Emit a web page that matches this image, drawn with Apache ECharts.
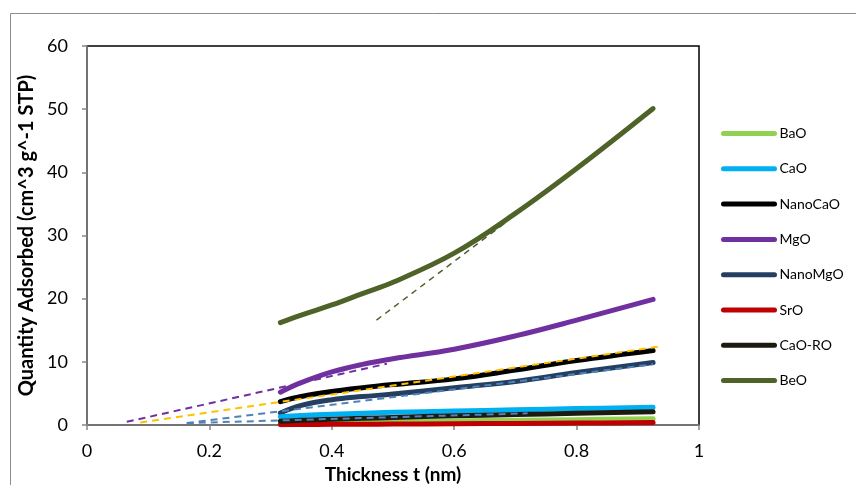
<!DOCTYPE html>
<html><head><meta charset="utf-8">
<script src="https://cdn.jsdelivr.net/npm/echarts@6/dist/echarts.min.js"></script>
<style>html,body{margin:0;padding:0;background:#fff}#c{width:856px;height:485px}</style>
</head><body><div id="c"></div>
<script>
const xTicks = [0, 0.2, 0.4, 0.6, 0.8, 1];
const yTicks = [0, 10, 20, 30, 40, 50, 60];
const thickness = [0.316, 0.35, 0.4, 0.45, 0.5, 0.6, 0.7, 0.8, 0.925];
const BaO      = [0.3, 0.35, 0.4, 0.45, 0.5, 0.65, 0.75, 0.85, 1.0];
const CaO      = [1.3, 1.5, 1.7, 1.85, 2.0, 2.2, 2.4, 2.6, 2.8];
const NanoCaO  = [3.7, 4.5, 5.3, 5.9, 6.4, 7.3, 8.7, 10.2, 11.8];
const MgO      = [5.2, 6.7, 8.4, 9.6, 10.5, 12.0, 14.1, 16.6, 19.9];
const NanoMgO  = [1.9, 3.1, 4.0, 4.5, 4.9, 5.9, 6.9, 8.3, 9.9];
const SrO      = [0.05, 0.07, 0.1, 0.12, 0.15, 0.2, 0.25, 0.3, 0.4];
const CaORO    = [0.6, 0.75, 0.9, 1.05, 1.2, 1.45, 1.65, 1.85, 2.1];
const BeO      = [16.2, 17.4, 19.0, 20.8, 22.6, 27.2, 33.5, 40.6, 50.1];
// linear fit (dashed) lines: [x0, x1], [y0, y1]
const mgoFitX = [0.065, 0.49],  mgoFitY = [0.5, 9.7];
const nanoCaOFitX = [0.087, 0.933], nanoCaOFitY = [0.4, 12.4];
const nanoMgOFitX = [0.163, 0.925], nanoMgOFitY = [0.3, 9.6];
const caoroFitX = [0.163, 0.72], caoroFitY = [0.3, 1.85];
const beoFitX = [0.473, 0.686], beoFitY = [16.6, 32.2];

const legendOrder = ['BaO','CaO','NanoCaO','MgO','NanoMgO','SrO','CaO-RO','BeO'];
const FONT = 'Lato, "Open Sans", sans-serif';

function pairs(xs, ys){ return xs.map((x,i)=>[x, ys[i]]); }
function solid(name, ys, color, z){
  return {name, type:'line', data: pairs(thickness, ys), smooth:0.4, showSymbol:false, symbol:'none',
    lineStyle:{color, width:5, cap:'round', join:'round'}, itemStyle:{color}, z, silent:true};
}
function dashed(name, xs, ys, color, width, dash, z){
  return {name, type:'line', data: pairs(xs, ys), showSymbol:false, symbol:'none',
    lineStyle:{color, width, type:dash}, itemStyle:{color}, z, silent:true};
}
const chart = echarts.init(document.getElementById('c'), null, {renderer:'canvas'});
chart.setOption({
  animation:false,
  backgroundColor:'#fff',
  graphic:[
    {type:'line', shape:{x1:10.5,y1:13.5,x2:856,y2:13.5}, style:{stroke:'#8c8c8c', lineWidth:1}},
    {type:'line', shape:{x1:10.5,y1:13.5,x2:10.5,y2:485}, style:{stroke:'#8c8c8c', lineWidth:1}}
  ],
  grid:{left:87, right:157, top:46, bottom:60, outerBoundsMode:'none', containLabel:false,
    show:true, borderColor:'#000', borderWidth:1.5, backgroundColor:'transparent'},
  legend:{
    orient:'vertical', left:716, top:121, itemWidth:51, itemHeight:6, itemGap:20.3,
    data:legendOrder,
    itemStyle:{opacity:0},
    lineStyle:{width:5, cap:'round'},
    textStyle:{fontFamily:FONT, fontSize:14, color:'#000', lineHeight:15}
  },
  xAxis:{type:'value', min:0, max:1, interval:0.2,
    name:'Thickness t (nm)', nameLocation:'middle', nameGap:39,
    nameTextStyle:{fontFamily:FONT, fontSize:19, fontWeight:'bold', color:'#000'},
    axisLine:{show:true, onZero:false, lineStyle:{color:'#868686', width:1.5}},
    axisTick:{show:true, inside:false, length:5, lineStyle:{color:'#868686', width:1.5}},
    splitLine:{show:false},
    axisLabel:{fontFamily:FONT, fontSize:18, color:'#000', margin:17,
      formatter:v=> xTicks.includes(+v.toFixed(1)) ? String(+v.toFixed(1)) : ''}
  },
  yAxis:{type:'value', min:0, max:60, interval:10,
    name:'Quantity Adsorbed (cm^3 g^-1 STP)', nameLocation:'middle', nameGap:44,
    nameTextStyle:{fontFamily:FONT, fontSize:20, fontWeight:'bold', color:'#000'},
    axisLine:{show:true, onZero:false, lineStyle:{color:'#868686', width:1.5}},
    axisTick:{show:true, inside:false, length:5, lineStyle:{color:'#868686', width:1.5}},
    splitLine:{show:false},
    axisLabel:{fontFamily:FONT, fontSize:18, color:'#000', margin:19,
      formatter:v=> yTicks.includes(v) ? String(v) : ''}
  },
  series:[
    dashed('BeO fit', beoFitX, beoFitY, '#4F6228', 1.5, [6,5], 2),
    solid('BeO', BeO, '#4F6228', 3),
    solid('MgO', MgO, '#7030A0', 3),
    dashed('MgO fit', mgoFitX, mgoFitY, '#7030A0', 2, [7,5], 4),
    solid('NanoCaO', NanoCaO, '#000000', 3),
    dashed('NanoCaO fit', nanoCaOFitX, nanoCaOFitY, '#FFC000', 2, [7,5], 4),
    solid('NanoMgO', NanoMgO, '#243F60', 3),
    dashed('NanoMgO fit', nanoMgOFitX, nanoMgOFitY, '#4F81BD', 2, [7,5], 4),
    solid('CaO', CaO, '#00B0F0', 3),
    solid('BaO', BaO, '#92D050', 3),
    solid('SrO', SrO, '#C00000', 3),
    solid('CaO-RO', CaORO, '#1D1B10', 3),
    dashed('CaO-RO fit', caoroFitX, caoroFitY, '#4F81BD', 2, [7,5], 4)
  ]
});
</script></body></html>
